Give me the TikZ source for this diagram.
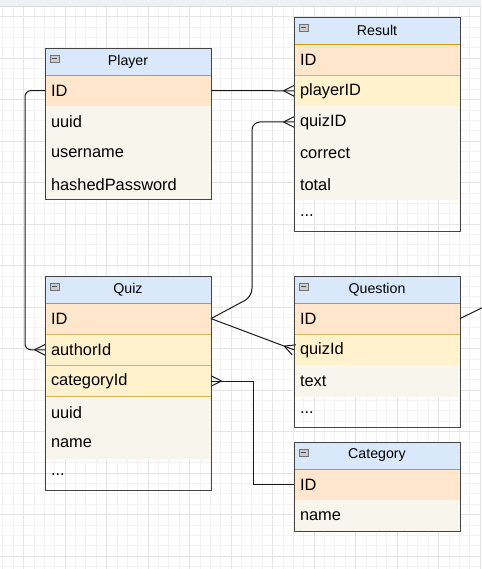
\documentclass[tikz,border=0pt]{standalone}
\usepackage{fontspec}
\setsansfont{Liberation Sans}
\usepackage{tikz}
\usetikzlibrary{positioning,calc}
\definecolor{hdrblue}{HTML}{DAE8FC}
\definecolor{pkfill}{HTML}{FFE6CC}
\definecolor{pkline}{HTML}{D79B00}
\definecolor{fkfill}{HTML}{FFF2CC}
\definecolor{fkline}{HTML}{D6B656}
\definecolor{rowfill}{HTML}{F8F5EC}
\definecolor{tblline}{HTML}{444444}
\definecolor{gridminor}{HTML}{F3F3F3}
\definecolor{gridmajor}{HTML}{E5E5E5}
\definecolor{topbar}{HTML}{EFF0F2}

\begin{document}
\begin{tikzpicture}[
  x=1pt, y=-1pt,
  font=\sffamily,
  hdr/.style={draw=tblline, fill=hdrblue, text width=154pt, inner xsep=6pt, align=center,
              minimum height=27pt, outer sep=0pt, font=\sffamily\fontsize{14.2}{16}\selectfont},
  fld/.style={text width=154pt, inner xsep=6pt, align=left, minimum height=31.2pt,
              outer sep=0pt, font=\sffamily\fontsize{16.4}{19}\selectfont},
  pk/.style={fld, draw=pkline, fill=pkfill},
  fk/.style={fld, draw=fkline, fill=fkfill},
  attr/.style={fld, fill=rowfill},
  more/.style={fld},
  tbl/.style={draw=tblline, line width=0.9pt},
  tog/.style={draw=black!55, fill=black!20, line width=0.6pt},
  rel/.style={draw=black!90, line width=1pt},
  crow/.pic={\draw[rel] (-10.5,0) -- (0,-5.3) (-10.5,0) -- (0,5.3);}
]
\useasboundingbox (0,0) rectangle (481,569);
\fill[white] (0,0) rectangle (481,569);

% Grid
\foreach \i in {0,...,46} {\draw[gridminor, line width=0.6pt] ({2.75+10.375*\i},6) -- ++(0,563);}
\foreach \i in {0,...,54} {\draw[gridminor, line width=0.6pt] (0,{6.125+10.375*\i}) -- ++(481,0);}
\foreach \i in {0,...,11} {\draw[gridmajor, line width=0.8pt] ({23.5+41.5*\i},6) -- ++(0,563);}
\foreach \i in {0,...,13} {\draw[gridmajor, line width=0.8pt] (0,{16.5+41.5*\i}) -- ++(481,0);}
\fill[topbar] (0,0) rectangle (481,6);
\draw[black!15] (0,6) -- (481,6);

% Player
\node[hdr, anchor=north west] (player) at (45,48) {Player};
\node[pk, below=0pt of player] (plID) {ID};
\node[attr, below=0pt of plID] (plUuid) {uuid};
\node[attr, below=0pt of plUuid] (plUser) {username};
\node[attr, below=0pt of plUser] (plPass) {hashedPassword};
\draw[tbl] (player.north west) rectangle (plPass.south east);

% Result
\node[hdr, anchor=north west] (result) at (294,17) {Result};
\node[pk, below=0pt of result] (resID) {ID};
\node[fk, below=0pt of resID] (resPlayer) {playerID};
\node[attr, below=0pt of resPlayer] (resQuiz) {quizID};
\node[attr, below=0pt of resQuiz] (resCorrect) {correct};
\node[attr, below=0pt of resCorrect] (resTotal) {total};
\node[more, below=0pt of resTotal] (resMore) {...};
\draw[tbl] (result.north west) rectangle (resMore.south east);

% Quiz
\node[hdr, anchor=north west] (quiz) at (45,276) {Quiz};
\node[pk, below=0pt of quiz] (qzID) {ID};
\node[fk, below=0pt of qzID] (qzAuthor) {authorId};
\node[fk, below=0pt of qzAuthor] (qzCat) {categoryId};
\node[attr, below=0pt of qzCat] (qzUuid) {uuid};
\node[attr, below=0pt of qzUuid] (qzName) {name};
\node[more, below=0pt of qzName] (qzMore) {...};
\draw[tbl] (quiz.north west) rectangle (qzMore.south east);

% Question
\node[hdr, anchor=north west] (question) at (294,276) {Question};
\node[pk, below=0pt of question] (quID) {ID};
\node[fk, below=0pt of quID] (quQuiz) {quizId};
\node[attr, below=0pt of quQuiz] (quText) {text};
\node[more, below=0pt of quText] (quMore) {...};
\draw[tbl] (question.north west) rectangle (quMore.south east);

% Category
\node[hdr, anchor=north west] (category) at (294,442) {Category};
\node[pk, below=0pt of category] (caID) {ID};
\node[attr, below=0pt of caID] (caName) {name};
\draw[tbl] (category.north west) rectangle (caName.south east);

% Collapse icons
\foreach \t in {player,result,quiz,question,category} {
  \draw[tog] ($(\t.north west)+(5,7)$) rectangle ++(9,7);
  \draw[black!70, line width=0.8pt] ($(\t.north west)+(7,10.5)$) -- ++(5,0);
}

% Relations
\draw[rel] (plID.east) -- (resPlayer.west);
\draw[rel, rounded corners=6pt] (plID.west) -- ++(-20,0) |- (qzAuthor.west);
\draw[rel, rounded corners=8pt] (qzID.east) -- ++(41,-22) |- (resQuiz.west);
\draw[rel] (qzID.east) -- (quQuiz.west);
\draw[rel] (qzCat.east) -- ++(42,0) |- (caID.west);
\coordinate (offRight) at (482,307.8);
\draw[rel] (quID.east) -- (offRight);

% Crow's feet
\pic at (resPlayer.west) {crow};
\pic at (resQuiz.west) {crow};
\pic at (qzAuthor.west) {crow};
\pic[rotate=-20.6] at (quQuiz.west) {crow};
\pic[xscale=-1] at (qzCat.east) {crow};
\end{tikzpicture}
\end{document}
